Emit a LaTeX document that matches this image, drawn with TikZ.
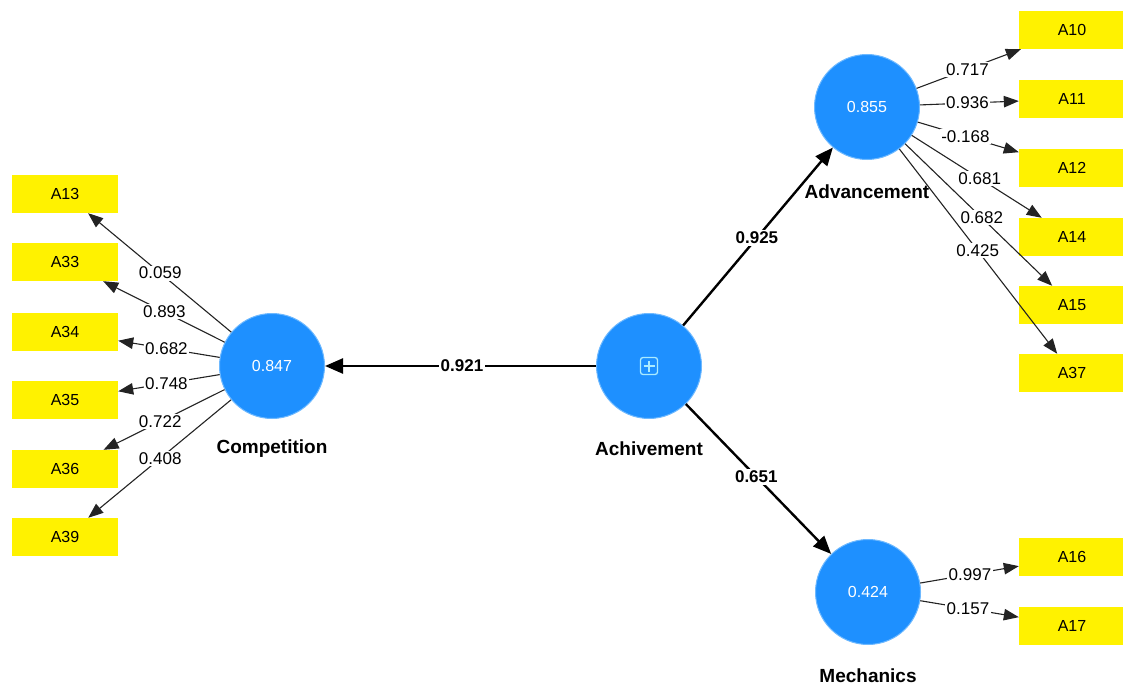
\documentclass[tikz,border=0pt]{standalone}
\usepackage{fontspec}
\setmainfont{Liberation Sans}
\usetikzlibrary{arrows.meta,calc}
\definecolor{lvblue}{RGB}{30,144,255}
\definecolor{lvedge}{RGB}{110,185,255}
\definecolor{iconcyan}{RGB}{170,235,255}
\definecolor{indyellow}{RGB}{255,242,0}
\definecolor{linkgray}{RGB}{35,35,35}
\begin{document}
\begin{tikzpicture}[x=1pt,y=-1pt,
  latent/.style={circle, fill=lvblue, draw=lvedge, line width=1pt, minimum size=105pt, inner sep=0pt,
    text=white, font=\fontsize{16}{19}\selectfont},
  indicator/.style={rectangle, fill=indyellow, minimum width=106pt, minimum height=38pt, inner sep=0pt,
    font=\fontsize{16}{19}\selectfont},
  lvname/.style={font=\bfseries\fontsize{19}{22}\selectfont},
  outer/.style={draw=linkgray, line width=1.1pt, -{Triangle[length=15pt,width=11.5pt]}},
  structural/.style={draw=black, line width=2.4pt, -{Triangle[length=18pt,width=15pt]}},
  loading/.style={fill=white, inner sep=1.5pt, font=\fontsize{17}{20}\selectfont},
  coef/.style={fill=white, inner sep=2pt, font=\bfseries\fontsize{17}{20}\selectfont},
]
\useasboundingbox (0,0) rectangle (1123,687);

% latent variables
\node[latent] (comp) at (272,366) {0.847};
\node[latent] (ach)  at (649,366) {};
\node[latent] (adv)  at (867,107) {0.855};
\node[latent] (mech) at (868,592) {0.424};

% expand icon of the higher-order construct
\node[draw=iconcyan, line width=1.3pt, rounded corners=2.5pt, minimum size=17pt, inner sep=0pt] (expand) at (ach) {};
\draw[iconcyan, line width=1.3pt] ([xshift=-5.5pt]expand.center) -- ([xshift=5.5pt]expand.center)
  ([yshift=-5.5pt]expand.center) -- ([yshift=5.5pt]expand.center);

% construct names
\node[lvname] (comp-name) at ($(comp)+(0,83)$) {Competition};
\node[lvname] (ach-name)  at ($(ach)+(0,83)$)  {Achivement};
\node[lvname] (adv-name)  at ($(adv)+(0,85)$)  {Advancement};
\node[lvname] (mech-name) at ($(mech)+(0,84)$) {Mechanics};

% indicators
\node[indicator] (a13) at (65,194) {A13};
\node[indicator] (a33) at (65,262) {A33};
\node[indicator] (a34) at (65,332) {A34};
\node[indicator] (a35) at (65,400) {A35};
\node[indicator] (a36) at (65,469) {A36};
\node[indicator] (a39) at (65,537) {A39};
\node[indicator] (a10) at (1072,30)  {A10};
\node[indicator] (a11) at (1072,99)  {A11};
\node[indicator] (a12) at (1072,168) {A12};
\node[indicator] (a14) at (1072,237) {A14};
\node[indicator] (a15) at (1072,305) {A15};
\node[indicator] (a37) at (1072,373) {A37};
\node[indicator] (a16) at (1072,557) {A16};
\node[indicator] (a17) at (1072,626) {A17};

% structural paths
\draw[structural] (ach) -- (comp);
\draw[structural] (ach) -- (adv);
\draw[structural] (ach) -- (mech);
\node[coef] (p-comp) at ($(ach)!0.496!(comp)$) {0.921};
\node[coef] (p-adv)  at ($(ach)!0.495!(adv)$)  {0.925};
\node[coef] (p-mech) at ($(ach)!0.49!(mech)$)  {0.651};

% outer loadings
\foreach \lv/\ind in {comp/a13,comp/a33,comp/a34,comp/a35,comp/a36,comp/a39,
    adv/a10,adv/a11,adv/a12,adv/a14,adv/a15,adv/a37,mech/a16,mech/a17}
  \draw[outer] (\lv) -- (\ind);
\foreach \lv/\ind/\t/\val in {comp/a13/0.54/0.059, comp/a33/0.52/0.893, comp/a34/0.51/0.682,
    comp/a35/0.51/0.748, comp/a36/0.54/0.722, comp/a39/0.54/0.408,
    adv/a10/0.49/0.717, adv/a11/0.49/0.936, adv/a12/0.48/-0.168,
    adv/a14/0.55/0.681, adv/a15/0.56/0.682, adv/a37/0.54/0.425,
    mech/a16/0.50/0.997, mech/a17/0.49/0.157}
  \node[loading] (l-\ind) at ($(\lv)!\t!(\ind)$) {\val};
\end{tikzpicture}
\end{document}
